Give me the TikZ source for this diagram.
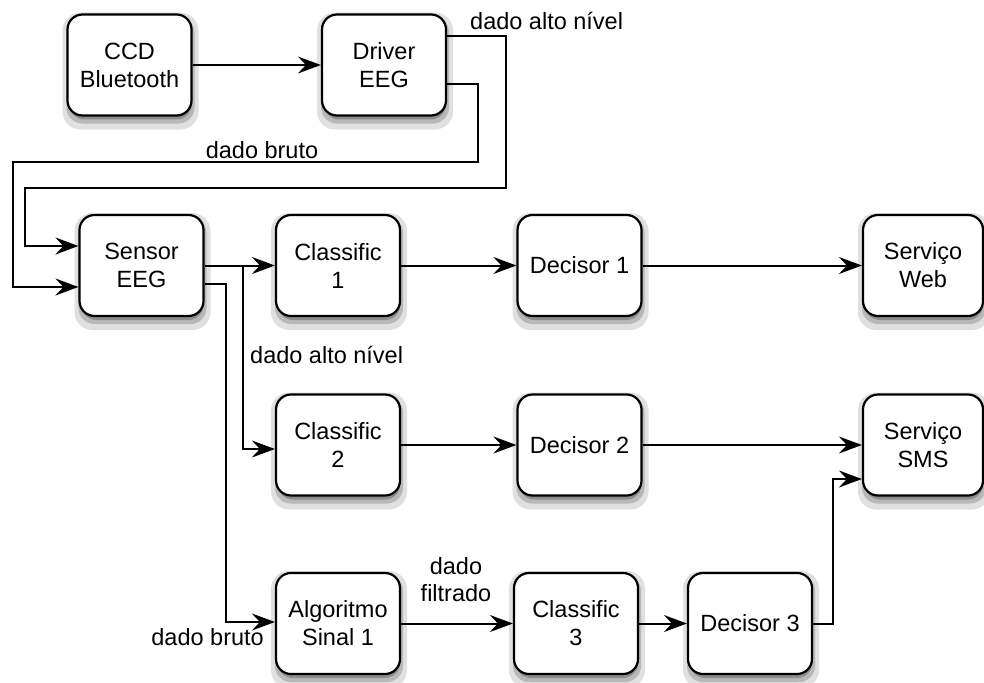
\documentclass[tikz,border=0pt]{standalone}
\usepackage{fontspec}
\setmainfont{Liberation Sans}
\usetikzlibrary{arrows.meta,calc}
\begin{document}
\begin{tikzpicture}[x=1pt,y=-1pt,
  box/.style={draw,line width=2.2pt,rounded corners=15pt,fill=white,
    minimum width=124pt,minimum height=101pt,inner sep=0pt,align=center,
    font=\fontsize{23.5}{28}\selectfont},
  shA/.style={draw=none,fill=black!12,rounded corners=18pt,minimum width=#1,minimum height=117pt,inner sep=0pt},
  shB/.style={draw=none,fill=black!28,rounded corners=16pt,minimum width=#1,minimum height=107pt,inner sep=0pt},
  shC/.style={draw=none,fill=black!45,rounded corners=15pt,minimum width=#1,minimum height=101pt,inner sep=0pt},
  arr/.style={line width=2pt,-{Stealth[length=23pt,width=17pt,inset=8pt]}},
  lbl/.style={font=\fontsize{23.5}{27}\selectfont,inner sep=0pt,align=center}]
\useasboundingbox (0,0) rectangle (984,682);
% shadows (drawn before the boxes)
\foreach \cx/\cy/\w [count=\i] in {129.5/65/124,384/65/124,141.5/265.5/124,338/265.5/124,579.5/265.5/124,923/265.5/120,
  338/445/124,579.5/445/124,923/445/120,338/623.5/124,576/623.5/124,750/623.5/124}{
  \node[shA={\w pt+12pt}] (sa\i) at (\cx+1,\cy+6) {};
  \node[shB={\w pt+4pt}] (sb\i) at (\cx+1,\cy+5) {};
  \node[shC={\w pt-2pt}] (sc\i) at (\cx+1,\cy+4) {};
}
% nodes
\node[box] (ccd) at (129.5,65) {CCD\\Bluetooth};
\node[box] (drv) at (384,65) {Driver\\EEG};
\node[box] (sen) at (141.5,265.5) {Sensor\\EEG};
\node[box] (c1) at (338,265.5) {Classific\\1};
\node[box] (d1) at (579.5,265.5) {Decisor 1};
\node[box,minimum width=120pt] (web) at (923,265.5) {Serviço\\Web};
\node[box] (c2) at (338,445) {Classific\\2};
\node[box] (d2) at (579.5,445) {Decisor 2};
\node[box,minimum width=120pt] (sms) at (923,445) {Serviço\\SMS};
\node[box] (alg) at (338,623.5) {Algoritmo\\Sinal 1};
\node[box] (c3) at (576,623.5) {Classific\\3};
\node[box] (d3) at (750,623.5) {Decisor 3};
% labels
\node[lbl,anchor=west] (l1) at (470,21) {dado alto nível};
\node[lbl] (l2) at (262,150) {dado bruto};
\node[lbl,anchor=west] (l3) at (250,355) {dado alto nível};
\node[lbl] (l4) at (456,580) {dado\\filtrado};
\node[lbl,anchor=east] (l5) at (264,637) {dado bruto};
% connectors
\draw[arr] (ccd) -- (drv);
\draw[arr] ([yshift=29.3pt]drv.east) -- ++(59,0) |- (25,187.7) |- ([yshift=19.5pt]sen.west);
\draw[arr] ([yshift=-19.3pt]drv.east) -- ++(31,0) |- (12.6,161.7) |- ([yshift=-21.5pt]sen.west);
\draw[arr] (sen) -- (c1);
\coordinate (br) at ($(sen.east)+(38.7,0)$);
\draw[arr] (br) |- ([yshift=-4pt]c2.west);
\draw[arr] ([yshift=-18.5pt]sen.east) -- ++(21,0) |- ([yshift=1.5pt]alg.west);
\draw[arr] (c1) -- (d1);
\draw[arr] (d1) -- (web);
\draw[arr] (c2) -- (d2);
\draw[arr] (d2) -- (sms);
\draw[arr] (alg) -- (c3);
\draw[arr] (c3) -- (d3);
\draw[arr] (d3.east) -- ++(20,0) |- ([yshift=-34pt]sms.west);
\end{tikzpicture}
\end{document}
